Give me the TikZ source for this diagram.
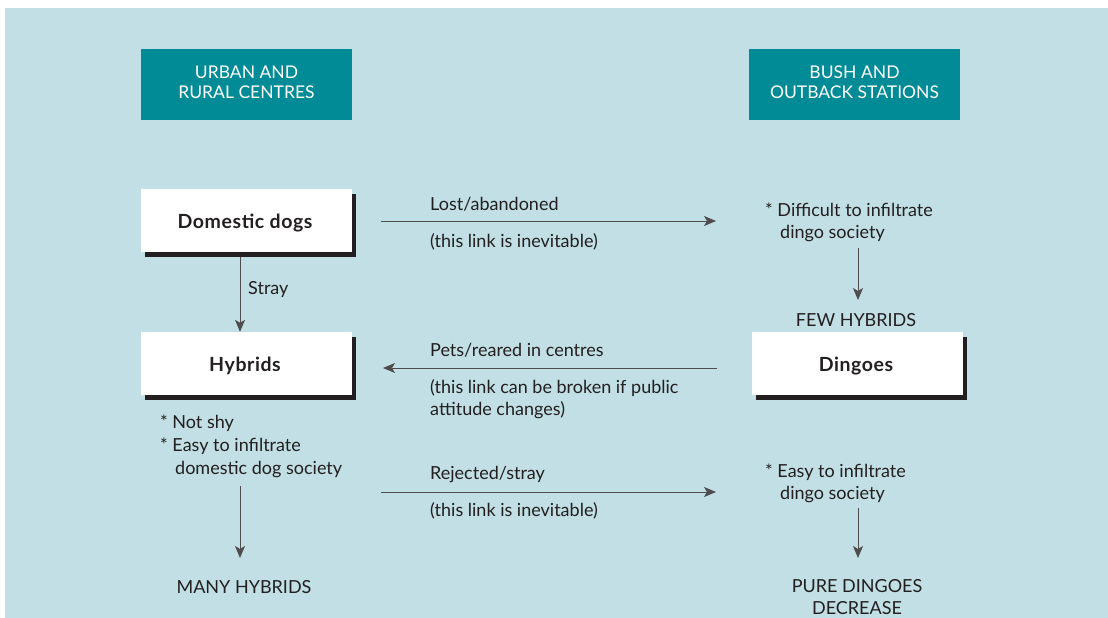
\documentclass[tikz,border=0pt]{standalone}
\usepackage{fontspec}
\setmainfont{Lato}
\usetikzlibrary{arrows.meta,shadows}
\definecolor{bgblue}{HTML}{C1DFE4}
\definecolor{regteal}{HTML}{008B96}
\definecolor{ink}{HTML}{231F20}
\tikzset{
  region/.style={text=white, inner sep=0pt, font=\fontsize{17.5}{21}\selectfont},
  regbox/.style={fill=regteal, minimum width=211pt, minimum height=71pt, inner sep=0pt},
  animal/.style={fill=white, minimum width=211pt, minimum height=63pt, inner sep=0pt,
    drop shadow={shadow xshift=4pt, shadow yshift=-5pt, opacity=1, fill=ink}},
  animaltext/.style={text=ink, inner sep=0pt, font=\fontsize{19.5}{22}\selectfont\bfseries\addfontfeature{LetterSpace=3}},
  lbl/.style={text=ink, inner sep=0pt, font=\fontsize{18}{22}\selectfont},
  conn/.style={draw=ink!80, line width=0.8pt, -{Stealth[length=12pt,width=10pt,inset=3pt]}},
}
\begin{document}
\begin{tikzpicture}[x=1pt,y=-1pt]
\useasboundingbox (0,0) rectangle (1108,618);
\fill[bgblue] (5,8) rectangle (1108,618);
% region headers
\node[regbox] (urban) at (246.5,84.5) {};
\node[region, anchor=base] (urban1) at (246.5,78) {URBAN AND};
\node[region, anchor=base] (urban2) at (246.5,99) {RURAL CENTRES};
\node[regbox] (bush) at (854.5,84.5) {};
\node[region, anchor=base] (bush1) at (854.5,78) {BUSH AND};
\node[region, anchor=base] (bush2) at (854.5,99) {OUTBACK STATIONS};
% boxes
\node[animal] (dom) at (246.5,220.5) {};
\node[animaltext, anchor=base] (domt) at (245,228) {Domestic dogs};
\node[animal] (hyb) at (246.5,363.5) {};
\node[animaltext, anchor=base] (hybt) at (245,371) {Hybrids};
\node[animal] (din) at (857.5,363.5) {};
\node[animaltext, anchor=base] (dint) at (856,371) {Dingoes};
% horizontal connector end points
\coordinate (a1s) at (381,221);
\coordinate (a1e) at (716,221);
\coordinate (a2s) at (717,368);
\coordinate (a2e) at (383,368);
\coordinate (a3s) at (381,492);
\coordinate (a3e) at (716,492);
\draw[conn] (a1s) -- (a1e);
\draw[conn] (a2s) -- (a2e);
\draw[conn] (a3s) -- (a3e);
% labels on horizontal links
\node[lbl, anchor=base west] (l1a) at (430,210) {Lost/abandoned};
\node[lbl, anchor=base west] (l1b) at (430,247) {(this link is inevitable)};
\node[lbl, anchor=base west] (l2a) at (430,356) {Pets/reared in centres};
\node[lbl, anchor=base west] (l2b) at (430,393) {(this link can be broken if public};
\node[lbl, anchor=base west] (l2c) at (430,415) {attitude changes)};
\node[lbl, anchor=base west] (l3a) at (430,479) {Rejected/stray};
\node[lbl, anchor=base west] (l3b) at (430,516) {(this link is inevitable)};
% stray link
\draw[conn] ([xshift=-6.5pt,yshift=-5pt]dom.south) -- ([xshift=-6.5pt]hyb.north);
\node[lbl, anchor=base west] (stray) at (248,294) {Stray};
% hybrids notes
\node[lbl, anchor=base west] (hn1) at (160,428) {* Not shy};
\node[lbl, anchor=base west] (hn2) at (160,451) {* Easy to infiltrate};
\node[lbl, anchor=base west] (hn3) at (175,474) {domestic dog society};
\node[lbl, anchor=base] (many) at (244,593) {MANY HYBRIDS};
\coordinate (h1) at (240,486);
\coordinate (h2) at (240,558);
\draw[conn] (h1) -- (h2);
% dingo side, top
\node[lbl, anchor=base west] (diff1) at (765,216) {* Difficult to infiltrate};
\node[lbl, anchor=base west] (diff2) at (780,238) {dingo society};
\node[lbl, anchor=base] (few) at (856,326) {FEW HYBRIDS};
\coordinate (d1) at (858,248);
\coordinate (d1e) at (858,300);
\draw[conn] (d1) -- (d1e);
% dingo side, bottom
\node[lbl, anchor=base west] (easy1) at (765,477) {* Easy to infiltrate};
\node[lbl, anchor=base west] (easy2) at (780,499) {dingo society};
\node[lbl, anchor=base] (pure1) at (857,592) {PURE DINGOES};
\node[lbl, anchor=base] (pure2) at (857,614) {DECREASE};
\coordinate (d2) at (858,508);
\coordinate (d2e) at (858,558);
\draw[conn] (d2) -- (d2e);
\end{tikzpicture}
\end{document}
